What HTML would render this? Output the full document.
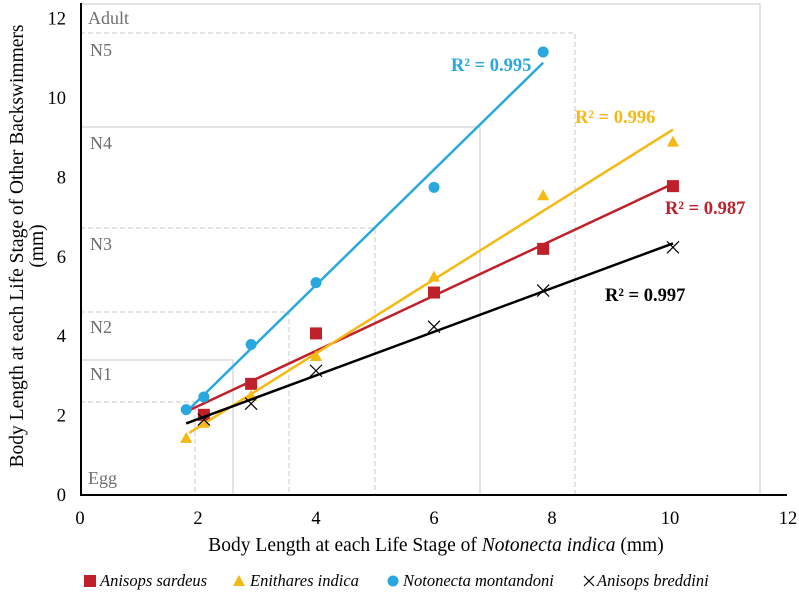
<!DOCTYPE html>
<html><head><meta charset="utf-8"><style>
body{margin:0;background:#fff}
svg text{font-family:"Liberation Serif",serif}
</style></head><body>
<svg id="c" width="799" height="593" xmlns="http://www.w3.org/2000/svg">
<g id="guides" stroke="#c8c8c8" stroke-width="1" fill="none">
<path d="M80 4H760V495" />
<path d="M80 33H575V495" stroke-dasharray="5,3"/>
<path d="M80 127H480V495"/>
<path d="M80 228H375V495" stroke-dasharray="5,3"/>
<path d="M80 312H289V495" stroke-dasharray="5,3"/>
<path d="M80 360H233V495"/>
<path d="M80 402H195V495" stroke-dasharray="5,3"/>
</g>
<g font-size="18" fill="#6e6e6e">
<text x="88" y="24">Adult</text>
<text x="90" y="56">N5</text>
<text x="90" y="149">N4</text>
<text x="90" y="250">N3</text>
<text x="90" y="333">N2</text>
<text x="90" y="380">N1</text>
<text x="88" y="484">Egg</text>
</g>
<g id="axes"></g>
<g id="series"></g>
<g font-size="18.5" font-weight="bold">
<text x="451" y="71" fill="#29a8df">R² = 0.995</text>
<text x="575" y="123" fill="#f5b914">R² = 0.996</text>
<text x="665" y="214" fill="#c0202a">R² = 0.987</text>
<text x="605" y="301" fill="#000">R² = 0.997</text>
</g>
<text x="436" y="551" font-size="19.5" text-anchor="middle">Body Length at each Life Stage of <tspan font-style="italic">Notonecta indica</tspan> (mm)</text>
<g transform="translate(23,246) rotate(-90)" font-size="19.5" text-anchor="middle">
<text x="0" y="0">Body Length at each Life Stage of Other Backswimmers</text>
<text x="0" y="20">(mm)</text>
</g>
<g font-size="16.5" font-style="italic">
<g><rect x="84" y="575" width="12" height="12" fill="#c0202a"/><text x="100" y="586">Anisops sardeus</text></g>
<g><path d="M233 586l6-11 6 11z" fill="#f5b914"/><text x="250" y="586">Enithares indica</text></g>
<g><circle cx="393" cy="581" r="5.5" fill="#29a8df"/><text x="403" y="586">Notonecta montandoni</text></g>
<g><path d="M584 576l10 10M594 576l-10 10" stroke="#000" stroke-width="1.2"/><text x="597" y="586">Anisops breddini</text></g>
</g>
</svg>
<script>
const xTicks=[0,2,4,6,8,10,12];
const yTicks=[0,2,4,6,8,10,12];
const xSardeus=[2.1,2.9,4.0,6.0,7.85,10.05];
const ySardeus=[2.02,2.8,4.07,5.1,6.2,7.78];
const xEnithares=[1.8,2.1,2.9,4.0,6.0,7.85,10.05];
const yEnithares=[1.44,1.82,2.5,3.5,5.5,7.55,8.9];
const xNotonecta=[1.8,2.1,2.9,4.0,6.0,7.85];
const yNotonecta=[2.15,2.47,3.79,5.35,7.75,11.16];
const xBreddini=[2.1,2.9,4.0,6.0,7.85,10.05];
const yBreddini=[1.9,2.3,3.13,4.24,5.15,6.24];
const NS="http://www.w3.org/2000/svg";
const X=v=>80+v*59.0, Y=v=>495-v*39.7;
function mk(t,a,p){const e=document.createElementNS(NS,t);for(const k in a)e.setAttribute(k,a[k]);p.appendChild(e);return e;}
const ax=document.getElementById('axes');
let l=mk('line',{x1:80,y1:495,x2:787,y2:495,stroke:'#000','stroke-width':2},ax);


l=mk('line',{x1:81,y1:3,x2:81,y2:496,stroke:'#000','stroke-width':2},ax);


xTicks.forEach(v=>{const t=mk('text',{x:X(v),y:524,'font-size':18.5,'text-anchor':'middle'},ax);t.textContent=v;

});
yTicks.forEach(v=>{const t=mk('text',{x:66,y:Y(v)+6,'font-size':18.5,'text-anchor':'end'},ax);t.textContent=v;

});
const sg=document.getElementById('series');
function fit(xs,ys){const n=xs.length,mx=xs.reduce((a,b)=>a+b)/n,my=ys.reduce((a,b)=>a+b)/n;let sxy=0,sxx=0;xs.forEach((x,i)=>{sxy+=(x-mx)*(ys[i]-my);sxx+=(x-mx)**2});const b=sxy/sxx;return [my-b*mx,b];}
function series(name,xs,ys,col,shape,x0,x1){
const g=mk('g',{},sg);


const [a,b]=fit(xs,ys);
const tl=mk('line',{x1:X(x0),y1:Y(a+b*x0),x2:X(x1),y2:Y(a+b*x1),stroke:col,'stroke-width':2.5},g);


xs.forEach((x,i)=>{const cx=X(x),cy=Y(ys[i]);let m;
if(shape=='sq')m=mk('rect',{x:cx-6,y:cy-6,width:12,height:12,fill:col},g);
else if(shape=='tri')m=mk('path',{d:`M${cx-6} ${cy+5}l6-11 6 11z`,fill:col},g);
else if(shape=='circ')m=mk('circle',{cx:cx,cy:cy,r:5.5,fill:col},g);
else m=mk('path',{d:`M${cx-6} ${cy-6}l12 12M${cx+6} ${cy-6}l-12 12`,stroke:col,'stroke-width':1.2},g);

});
}
series('sardeus',xSardeus,ySardeus,'#c0202a','sq',1.8,10.05);
series('enithares',xEnithares,yEnithares,'#f5b914','tri',1.85,10.05);
series('notonecta',xNotonecta,yNotonecta,'#29a8df','circ',1.8,7.85);
series('breddini',xBreddini,yBreddini,'#000','x',1.8,10.05);
</script>
</body></html>
